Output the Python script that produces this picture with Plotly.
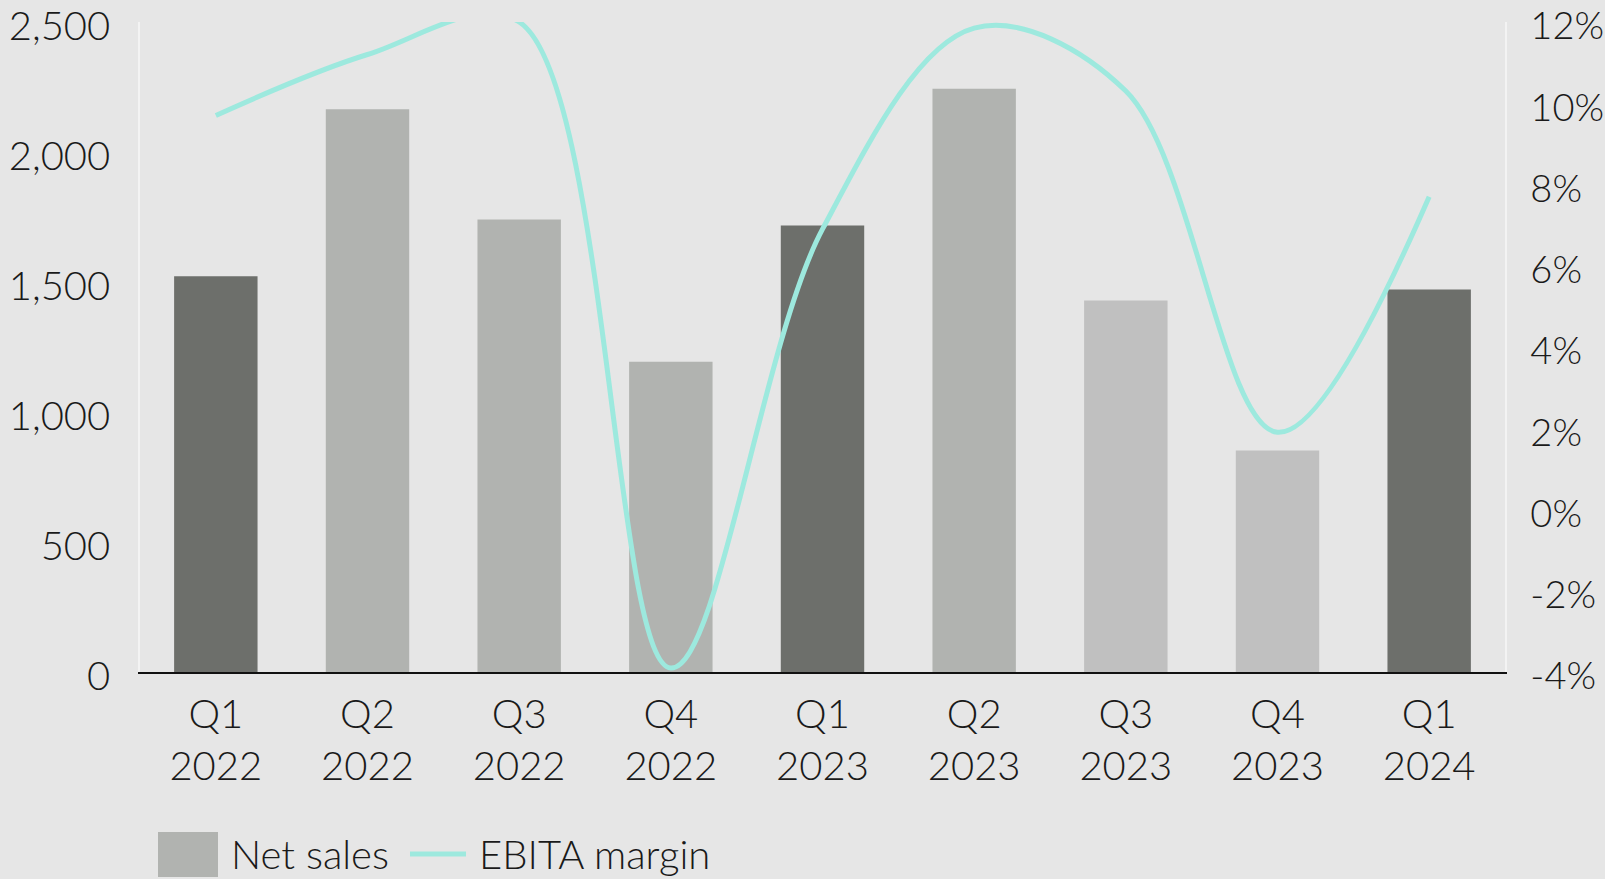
import plotly.graph_objects as go

# Quarterly figures
quarters = ["Q1<br>2022", "Q2<br>2022", "Q3<br>2022", "Q4<br>2022",
            "Q1<br>2023", "Q2<br>2023", "Q3<br>2023", "Q4<br>2023", "Q1<br>2024"]
net_sales = [1522, 2164, 1740, 1193, 1717, 2243, 1429, 852, 1471]
ebita_margin = [9.7, 11.2, 12.0, -3.9, 6.9, 11.85, 10.3, 1.9, 7.7]

sales_ticks = [0, 500, 1000, 1500, 2000, 2500]
sales_tick_text = ["0", "500", "1,000", "1,500", "2,000", "2,500"]
margin_ticks = [-4, -2, 0, 2, 4, 6, 8, 10, 12]
margin_tick_text = ["-4%", "-2%", "0%", "2%", "4%", "6%", "8%", "10%", "12%"]

DARK = "#6d6f6b"
LIGHT = "#b1b3b0"
PALE = "#c0c0c0"
TEAL = "#9de9de"
BG = "#e6e6e6"
TEXT = "#1a1a1a"
AXIS_LIGHT = "#f3f3f3"
bar_colors = [DARK, LIGHT, LIGHT, LIGHT, DARK, LIGHT, PALE, PALE, DARK]

W, H = 1605, 879
M_L, M_R, M_T, M_B = 140, 100, 22, 207
FONT = dict(family="Lato, 'Open Sans', sans-serif", size=40, color=TEXT, weight=300)
FONT_RIGHT = dict(FONT, size=38)

fig = go.Figure()
fig.add_trace(go.Bar(
    x=quarters, y=net_sales, name="Net sales",
    marker=dict(color=bar_colors, line=dict(width=0)),
    showlegend=False, hoverinfo="x+y",
))
fig.add_trace(go.Scatter(
    x=quarters, y=ebita_margin, name="EBITA margin", yaxis="y2",
    mode="lines", line=dict(color=TEAL, width=5, shape="spline", smoothing=1.0),
    showlegend=False,
))

# pixel -> paper helpers for the hand-built legend
pw = W - M_L - M_R
ph = H - M_T - M_B
def px(x):
    return (x - M_L) / pw
def py(y):
    return (H - M_B - y) / ph

shapes = [
    dict(type="rect", xref="paper", yref="paper",
         x0=px(158), x1=px(218), y0=py(877), y1=py(832),
         fillcolor=LIGHT, line=dict(width=0)),
    dict(type="line", xref="paper", yref="paper",
         x0=px(410), x1=px(466), y0=py(854), y1=py(854),
         line=dict(color=TEAL, width=5)),
]
annotations = [
    dict(text="Net sales", xref="paper", yref="paper", x=px(229), y=py(854),
         xanchor="left", yanchor="middle", showarrow=False, font=FONT),
    dict(text="EBITA margin", xref="paper", yref="paper", x=px(477), y=py(854),
         xanchor="left", yanchor="middle", showarrow=False, font=FONT),
]

fig.update_layout(
    width=W, height=H,
    margin=dict(l=M_L, r=M_R, t=M_T, b=M_B, pad=0, autoexpand=False),
    paper_bgcolor=BG, plot_bgcolor=BG,
    font=FONT,
    bargap=0.45,
    showlegend=False,
    xaxis=dict(
        automargin=False,
        showgrid=False, zeroline=False,
        showline=True, linecolor="#111111", linewidth=2,
        ticks="", tickfont=FONT, ticklabelstandoff=6,
    ),
    yaxis=dict(
        automargin=False,
        range=[0, 2500], tickvals=sales_ticks, ticktext=sales_tick_text,
        showgrid=False, zeroline=False,
        showline=True, linecolor=AXIS_LIGHT, linewidth=1.5,
        ticks="", tickfont=FONT, ticklabelstandoff=20,
        ticklabeloverflow="allow", ticklabelshift=4,
    ),
    yaxis2=dict(
        automargin=False,
        range=[-4, 12], tickvals=margin_ticks, ticktext=margin_tick_text,
        overlaying="y", side="right",
        showgrid=False, zeroline=False,
        showline=True, linecolor=AXIS_LIGHT, linewidth=1.5,
        ticks="", tickfont=FONT_RIGHT, ticklabelstandoff=16,
        ticklabeloverflow="allow", ticklabelshift=4,
    ),
    shapes=shapes,
    annotations=annotations,
)

fig.write_html("out.html")
